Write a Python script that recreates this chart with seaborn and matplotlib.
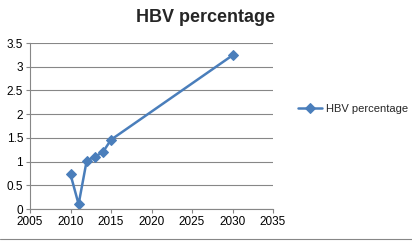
import matplotlib
matplotlib.use("Agg")
import matplotlib.pyplot as plt
import numpy as np
import pandas as pd
import seaborn as sns

### Chart data ###
years = [2010, 2011, 2012, 2013, 2014, 2015, 2030]
hbv_pct = [0.73, 0.10, 1.02, 1.10, 1.20, 1.46, 3.24]
x_ticks = [2005, 2010, 2015, 2020, 2025, 2030, 2035]
y_ticks = [0, 0.5, 1, 1.5, 2, 2.5, 3, 3.5]
y_labels = ['0', '0.5', '1', '1.5', '2', '2.5', '3', '3.5']

df = pd.DataFrame({'year': years, 'HBV percentage': hbv_pct})

sns.set_style("white")
plt.rcParams['font.family'] = ['Liberation Sans', 'DejaVu Sans']

fig = plt.figure(figsize=(4.12, 2.42), dpi=100)
ax = fig.add_axes([30 / 412, 1 - 209 / 242, 243 / 412, 166 / 242])

blue = '#4A7EBB'
sns.lineplot(data=df, x='year', y='HBV percentage', ax=ax, color=blue,
             marker='D', markersize=5, markeredgecolor=blue, linewidth=1.8,
             label='HBV percentage')

ax.set_xlim(2005, 2035)
ax.set_ylim(0, 3.5)
ax.set_xticks(x_ticks)
ax.set_yticks(y_ticks)
ax.set_yticklabels(y_labels)
ax.set_xlabel('')
ax.set_ylabel('')
ax.grid(axis='y', color='#878787', linewidth=0.8)
ax.set_axisbelow(True)

for side in ['top', 'right']:
    ax.spines[side].set_visible(False)
for side in ['left', 'bottom']:
    ax.spines[side].set_color('#878787')
    ax.spines[side].set_linewidth(0.8)
ax.tick_params(axis='both', which='both', labelsize=8.5, length=3, width=0.8,
               color='#878787', direction='out', pad=2, labelcolor='black')
ax.tick_params(left=True, bottom=True)

ax.legend(loc='center left', bbox_to_anchor=(298 / 412, 133 / 242),
          bbox_transform=fig.transFigure, frameon=False, fontsize=8,
          handlelength=2.2, handletextpad=0.3, borderaxespad=0, borderpad=0)

fig.text(206 / 412, 1 - 17 / 242, 'HBV percentage', ha='center', va='center',
         fontsize=13, fontweight='bold')

fig.add_artist(plt.Line2D([0, 1], [1 - 239 / 242, 1 - 239 / 242],
                          transform=fig.transFigure, color='#878787', linewidth=0.8))

fig.savefig('out.png', dpi=100)
